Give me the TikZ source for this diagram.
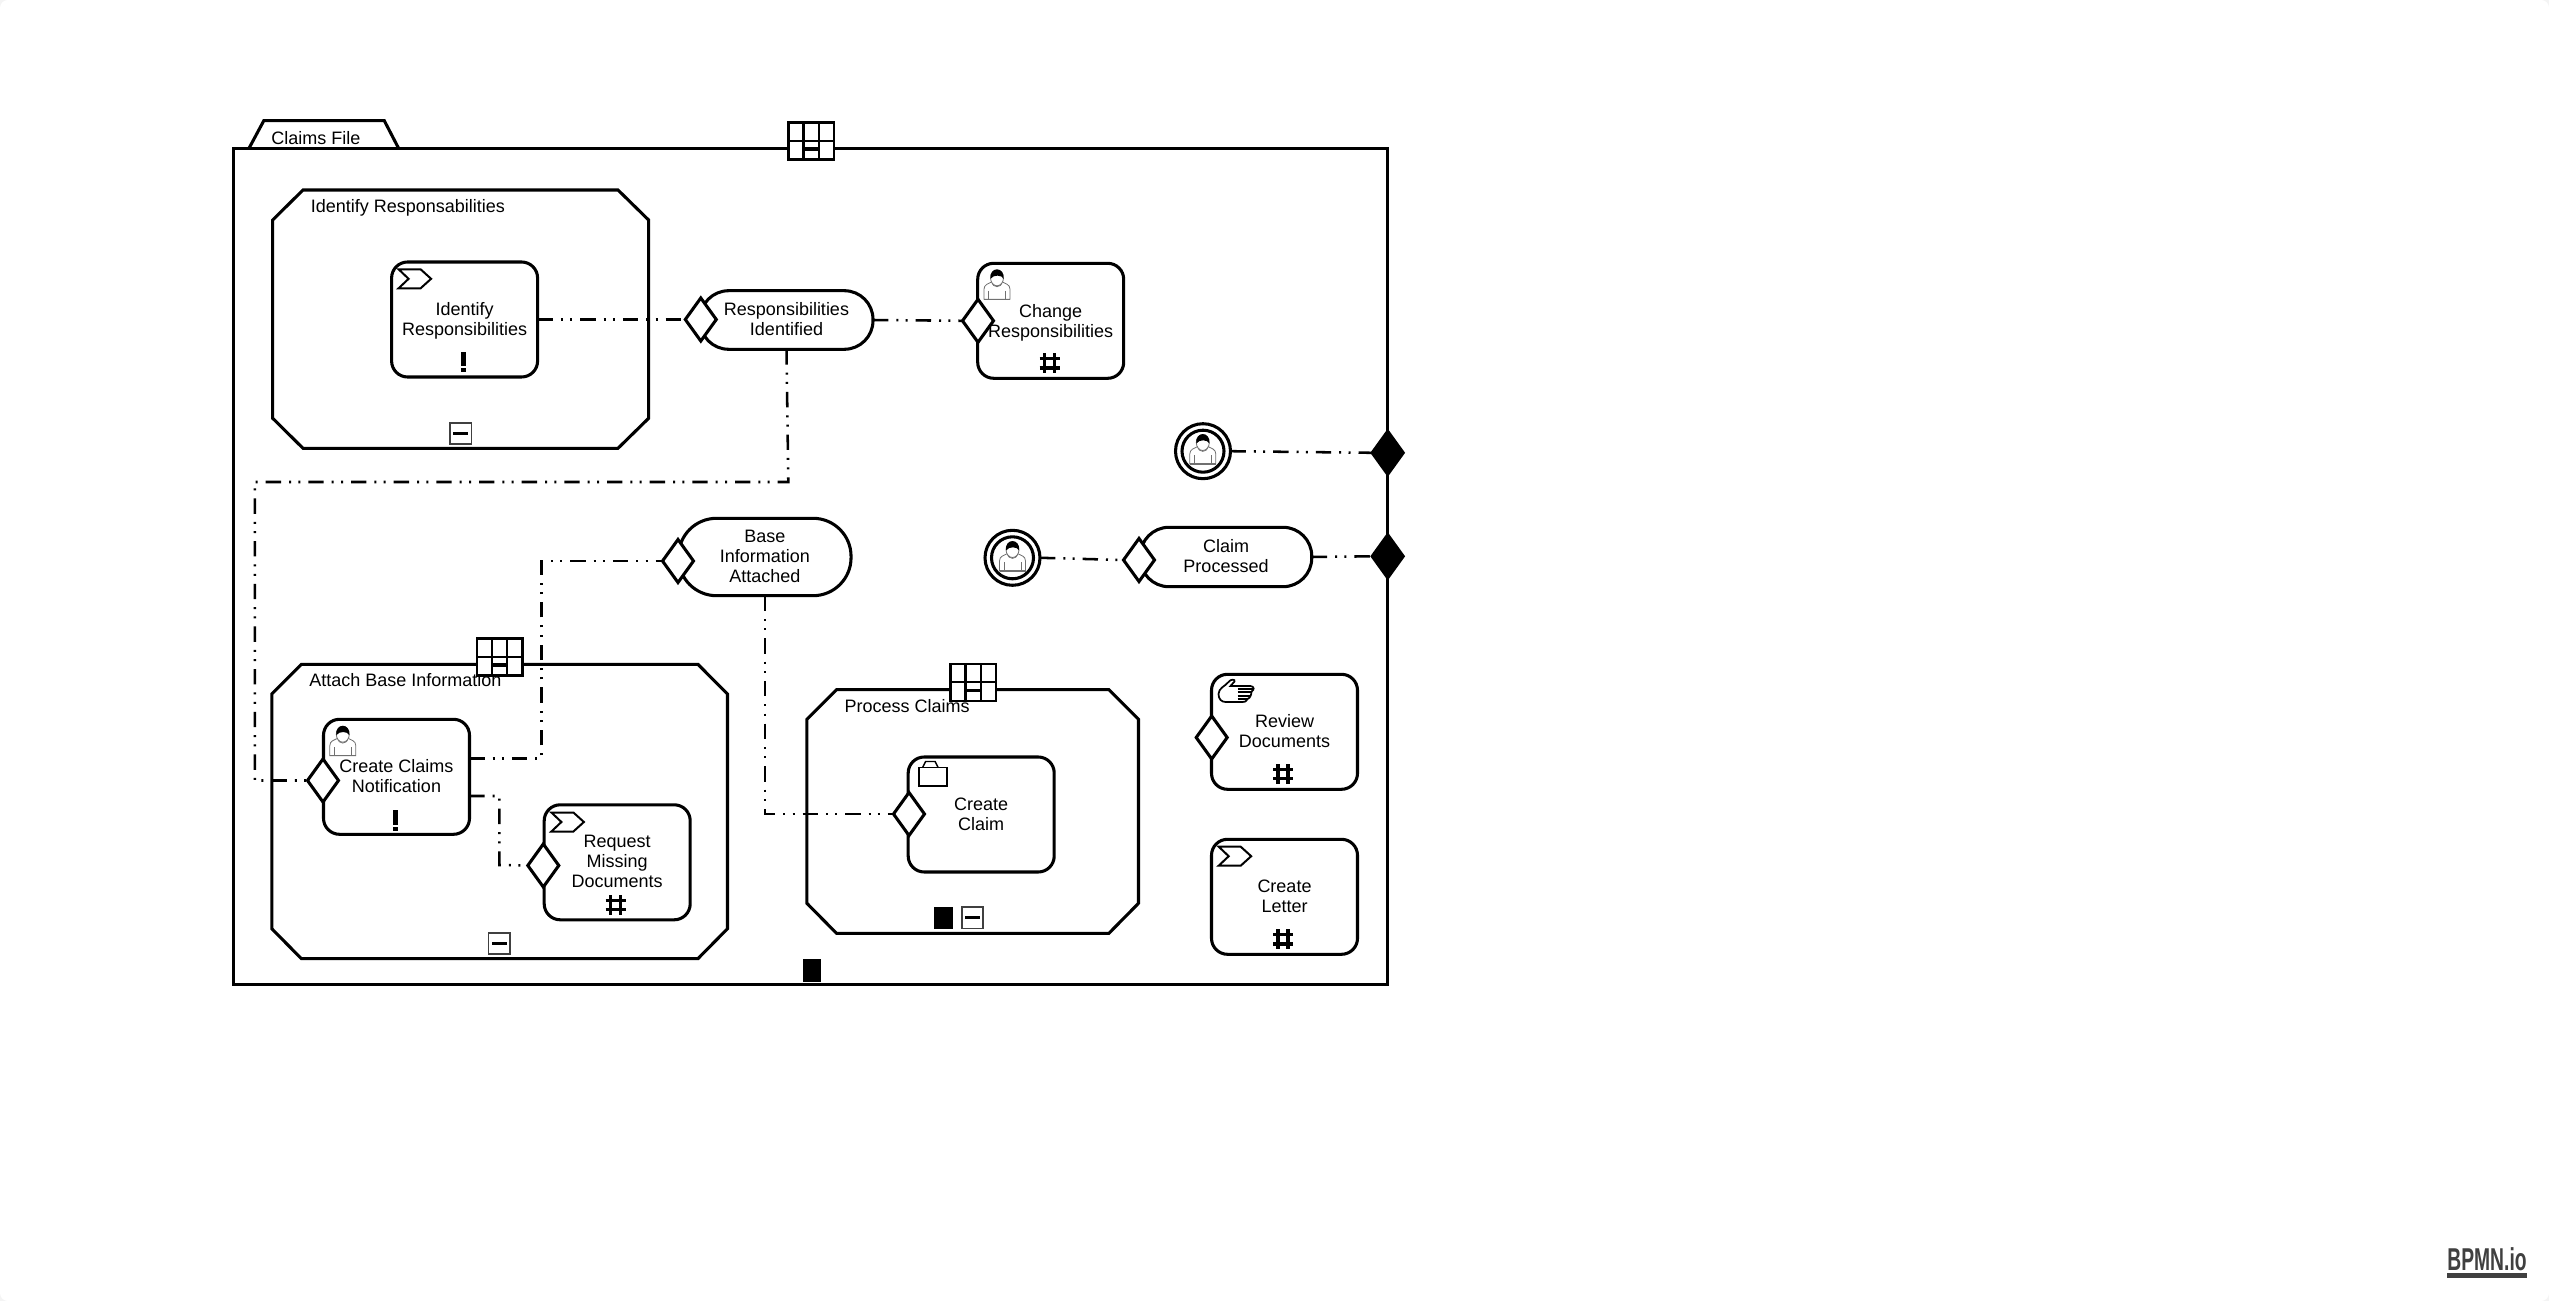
\documentclass[tikz,border=0pt]{standalone}
\usepackage{fontspec}
\setmainfont{Liberation Sans}
\usetikzlibrary{shapes.geometric}
\definecolor{logogray}{HTML}{404040}
\definecolor{icongray}{HTML}{707070}
\definecolor{cornergray}{HTML}{F4F4F4}
\newsavebox{\liftbox}
\newcommand{\lifted}[2]{\sbox{\liftbox}{\begin{tabular}{@{}c@{}}#2\end{tabular}}\raisebox{#1}[\ht\liftbox][\dp\liftbox]{\usebox{\liftbox}}}
\tikzset{
  shape line/.style={line width=2.3pt,draw=black},
  txt/.style={font=\fontsize{13.5}{15}\selectfont,align=center,text=black,inner sep=0pt},
  taskbox/.style={shape line,fill=white,rectangle,rounded corners=12pt,outer sep=0pt,minimum width=146*0.75pt,minimum height=115*0.75pt,txt},
  pill/.style={shape line,fill=white,rectangle,outer sep=0pt,txt},
  gate/.style={shape line,diamond,fill=white,inner sep=0pt,outer sep=0pt,minimum width=31*0.75pt,minimum height=43*0.75pt},
  blackgate/.style={gate,fill=black},
  subproc/.style={shape line,fill=white,line join=miter},
  ring/.style={shape line,circle,fill=white,inner sep=0pt,outer sep=0pt,minimum size=55*0.75pt},
  conn/.style={line width=1.9pt,draw=black,dash pattern=on 11.5pt off 6pt on 1.5pt off 5.5pt on 1.5pt off 6pt},
  chevronicon/.pic={\draw[line width=1.5pt,line join=miter,fill=white] (0,0)--(22,0)--(32.5,9.5)--(22,19)--(0,19)--(10,9.5)--cycle;},
  bangmark/.pic={\fill[black] (-2.7,-13)rectangle(2.7,1.5); \fill[black] (-2.7,3.5)rectangle(2.7,7.5);},
  hashmark/.pic={\draw[line width=2.6pt,black] (-5,-10)--(-5,10) (5,-10)--(5,10) (-10,-4.7)--(10,-4.7) (-10,4.7)--(10,4.7);},
  minusmark/.pic={\draw[line width=1.3pt,draw=logogray,fill=white] (0,0) rectangle (21.5,21.5); \draw[line width=2.3pt,black] (3.5,10.7)--(18,10.7);},
  gridmark/.pic={\draw[line width=1.9pt,draw=black,fill=white] (0,0) rectangle (45.5,37);
    \draw[line width=1.6pt,black] (0,18.3)--(45.5,18.3) (15.2,0)--(15.2,37) (30.3,0)--(30.3,37);
    \draw[line width=2.4pt,black] (15.2,26.5)--(30.3,26.5);},
  personicon/.pic={
    \draw[line width=0.6pt,icongray,fill=white] (0.5,30)--(0.5,20) .. controls (0.5,15) and (5,14.5) .. (8.5,12.5) .. controls (9,19) and (18,19) .. (18.5,12.5) .. controls (22,14.5) and (26.5,15) .. (26.5,20)--(26.5,30)--cycle;
    \draw[line width=0.6pt,icongray] (5,21.5)--(5,30) (22,21.5)--(22,30);
    \draw[line width=0.6pt,icongray,fill=white] (13.5,8.5) ellipse (6.5 and 8);
    \fill[black] (7,9.5) .. controls (5.5,-3) and (21.5,-3) .. (20,9.5) .. controls (18.5,5.5) and (10,5) .. (7,9.5) -- cycle;
    \draw[line width=1pt,icongray] (0.5,30)--(26.5,30);},
  handicon/.pic={
    \draw[line width=1.3pt,black,fill=white] (1,15) .. controls (1,9) and (8,7) .. (11,3) .. controls (13,0) and (18,0) .. (17,2.5) .. controls (16,4.5) and (14,5) .. (13,7) -- (33,7) .. controls (37,7.5) and (37,11) .. (34,12.5) .. controls (34,15) and (33,19) .. (30,20) .. controls (28,23) and (27,23) .. (25,23) -- (8,23) .. controls (4,23) and (1,20) .. (1,15) -- cycle;
    \draw[line width=1.4pt,black] (20,10)--(35,10) (20,13.3)--(34,13.3) (20,16.6)--(33,16.6) (20,20)--(29,20);},
  caseicon/.pic={\draw[line width=1.1pt,black] (0,6)rectangle(27.7,24.7); \draw[line width=1.1pt,black] (3.5,6)--(6.5,0)--(16,0)--(19,6);}
}
\begin{document}
\begin{tikzpicture}[x=0.75pt,y=-0.75pt]
\useasboundingbox (0,0) rectangle (2549,1301);
\fill[cornergray] (0,0) rectangle (2549,1301);
\fill[white,rounded corners=6pt] (0,0) rectangle (2549,1301);

% file container
\draw[shape line,fill=white] (249,148.3)--(263.8,120.7)--(384.3,120.7)--(398.6,148.3);
\node[shape line,rectangle,outer sep=0pt,inner sep=0pt,minimum width=1154*0.75pt,minimum height=836*0.75pt] (file) at (810.8,566.3) {};
\node[txt,anchor=center] (filelabel) at (316,137.7) {Claims File};
\pic at (788.3,122.5) {gridmark};
\fill[black] (802.5,959.3) rectangle (820.7,981.7);

% sub-processes
\draw[subproc] (303,190)--(618,190)--(648.6,220)--(648.6,418.3)--(618,448.3)--(303,448.3)--(272.7,418.3)--(272.7,220)--cycle;
\node[txt,anchor=west] (sp1label) at (310.6,208) {Identify Responsabilities};
\pic at (449.9,422.7) {minusmark};

\draw[subproc] (301.4,664.3)--(697.9,664.3)--(727.5,694)--(727.5,928.7)--(697.9,958.7)--(301.4,958.7)--(271.8,928.7)--(271.8,694)--cycle;
\node[txt,anchor=west] (sp2label) at (309,680) {Attach Base Information};
\pic at (477,638.5) {gridmark};
\pic at (488.6,932.7) {minusmark};

\draw[subproc] (836.5,689.7)--(1108.9,689.7)--(1138.5,719.3)--(1138.5,903.3)--(1108.9,933.3)--(836.5,933.3)--(806.9,903.3)--(806.9,719.3)--cycle;
\node[txt,anchor=west] (sp3label) at (844.4,706) {Process Claims};
\pic at (950.3,664) {gridmark};
\fill[black] (934.2,906.7) rectangle (952.7,929.3);
\pic at (961.8,907) {minusmark};

% tasks
\node[taskbox] (t1) at (464.6,319.5) {\lifted{-1.2pt}{Identify\\Responsibilities}};
\pic at (398.6,269.3) {chevronicon};
\pic at (463.3,365) {bangmark};

\node[taskbox] (t2) at (1050.7,320.8) {\lifted{-2pt}{Change\\Responsibilities}};
\pic at (983.5,269.3) {personicon};
\pic at (1049.5,363.3) {hashmark};

\node[taskbox] (t3) at (396.5,776.8) {\lifted{-1.2pt}{Create Claims\\Notification}};
\pic at (329.3,725.7) {personicon};
\pic at (395.7,823) {bangmark};

\node[taskbox] (t4) at (617.2,862.3) {\lifted{-1.2pt}{Request\\Missing\\Documents}};
\pic at (551.4,812.5) {chevronicon};
\pic at (615.7,905) {hashmark};

\node[taskbox] (t5) at (981.2,814.5) {\lifted{-1.2pt}{Create\\Claim}};
\pic at (919.1,761.5) {caseicon};

\node[taskbox] (t6) at (1284.5,731.8) {\lifted{-1.2pt}{Review\\Documents}};
\pic at (1217.5,679) {handicon};
\pic at (1283.2,774) {hashmark};

\node[taskbox] (t7) at (1284.5,896.8) {\lifted{-1.2pt}{Create\\Letter}};
\pic at (1218.7,846.7) {chevronicon};
\pic at (1283.2,939.3) {hashmark};

% intermediate pills
\node[pill,rounded corners=21.5pt,minimum width=173*0.75pt,minimum height=58.6*0.75pt] (e1) at (786.5,320) {\lifted{-1.2pt}{Responsibilities\\Identified}};
\node[pill,rounded corners=28.5pt,minimum width=172.5*0.75pt,minimum height=77.4*0.75pt] (e2) at (764.8,557) {\lifted{-1.2pt}{Base\\Information\\Attached}};
\node[pill,rounded corners=21.5pt,minimum width=171.5*0.75pt,minimum height=59.4*0.75pt] (e3) at (1226,557) {\lifted{-1.2pt}{Claim\\Processed}};

% gates
\node[gate] (g1) at (700.8,319.5) {};
\node[gate] (g2) at (978,320.8) {};
\node[gate] (g3) at (678,561) {};
\node[gate] (g4) at (1139,560) {};
\node[gate] (g5) at (323,780.5) {};
\node[gate] (g6) at (543.3,865.5) {};
\node[gate] (g7) at (909,814) {};
\node[gate] (g8) at (1211.7,737.5) {};
\node[blackgate] (b1) at (1387.7,452.8) {};
\node[blackgate] (b2) at (1387.7,556.3) {};

% ring events
\node[ring] (r1) at (1203,451.2) {};
\draw[shape line] (r1.center) circle (21);
\pic at (1189.3,434) {personicon};
\node[ring] (r2) at (1012.5,557.8) {};
\draw[shape line] (r2.center) circle (21);
\pic at (999,541) {personicon};

% connectors
\coordinate (t3a) at (469.3,758.7);
\coordinate (t3b) at (469.3,796);
\draw[conn] (t1.east) -- (g1.west);
\draw[conn] (e1.east) -- (g2.west);
\draw[conn] (e1.south) -- (788.3,482) -- (254.8,482) |- (g5.west);
\draw[conn] (t3a) -| (541.4,561) -- (g3.west);
\draw[conn] (t3b) -| (499.3,865) -- (g6.west);
\draw[conn] (e2.south) |- (g7.west);
\draw[conn] (r1.east) -- (b1.west);
\draw[conn] (r2.east) -- (g4.west);
\draw[conn] (e3.east) -- (b2.west);

% logo
\node[inner sep=0pt,text=logogray,anchor=center] (logo) at (2487,1258.7) {\fontsize{23.7}{24}\selectfont\scalebox{0.61}[1]{\bfseries BPMN.io}};
\fill[logogray] (2447.3,1272.7) rectangle (2526.7,1278.3);
\end{tikzpicture}
\end{document}
